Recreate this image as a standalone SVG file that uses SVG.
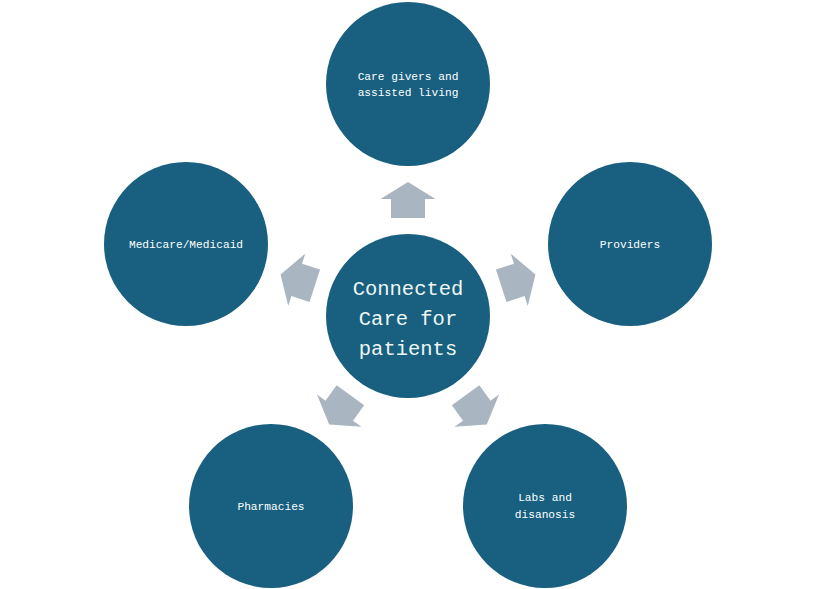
<svg xmlns="http://www.w3.org/2000/svg" width="816" height="589" viewBox="0 0 816 589">
<defs>
<style>
.node{fill:#185f80;}
.arr{fill:#a9b5c1;}
.lbl{font-family:"Liberation Mono",monospace;font-size:11.2px;fill:#ffffff;text-anchor:middle;}
.big{font-family:"Liberation Mono",monospace;font-size:20.5px;fill:#eef6f4;text-anchor:middle;}
</style>
<polygon id="arrowShape" points="0,-134 27.5,-117 17,-117 17,-98 -17,-98 -17,-117 -27.5,-117"/>
</defs>
<rect width="816" height="589" fill="#ffffff"/>
<g id="connectors" class="arr">
<use href="#arrowShape" transform="translate(408,316)"/>
<use href="#arrowShape" transform="translate(408,316) rotate(72)"/>
<use href="#arrowShape" transform="translate(408,316) rotate(144)"/>
<use href="#arrowShape" transform="translate(408,316) rotate(-144)"/>
<use href="#arrowShape" transform="translate(408,316) rotate(-72)"/>
</g>
<g id="center">
<circle class="node" cx="408" cy="316" r="82"/>
<text class="big" x="408" y="295">Connected</text>
<text class="big" x="408" y="325">Care for</text>
<text class="big" x="408" y="355">patients</text>
</g>
<g id="caregivers">
<circle class="node" cx="408" cy="84" r="82"/>
<text class="lbl" x="408" y="80">Care givers and</text>
<text class="lbl" x="408" y="96">assisted living</text>
</g>
<g id="providers">
<circle class="node" cx="630" cy="244" r="82"/>
<text class="lbl" x="630" y="248">Providers</text>
</g>
<g id="medicare">
<circle class="node" cx="186" cy="244" r="82"/>
<text class="lbl" x="186" y="248">Medicare/Medicaid</text>
</g>
<g id="pharmacies">
<circle class="node" cx="271" cy="506" r="82"/>
<text class="lbl" x="271" y="510">Pharmacies</text>
</g>
<g id="labs">
<circle class="node" cx="545" cy="506" r="82"/>
<text class="lbl" x="545" y="501">Labs and</text>
<text class="lbl" x="545" y="518">disanosis</text>
</g>
</svg>
